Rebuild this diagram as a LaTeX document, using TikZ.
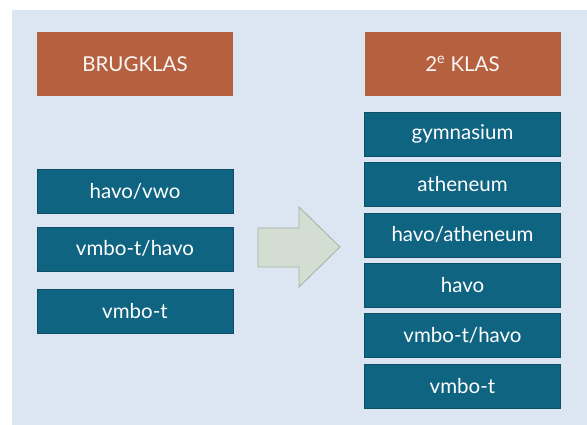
\documentclass[tikz,border=0pt]{standalone}
\usepackage{fontspec}
\setmainfont{Lato}
\usepackage{tikz}
\usetikzlibrary{positioning}
\definecolor{achtergrond}{HTML}{DCE6F2}
\definecolor{koper}{HTML}{B5603F}
\definecolor{petrol}{HTML}{0F6482}
\definecolor{pijlvul}{HTML}{D3DDD2}
\definecolor{pijlrand}{HTML}{9FB3A2}

\begin{document}
\begin{tikzpicture}[
                    x=1pt, y=-1pt,
                    kop/.style={rectangle, fill=koper, text=white!95!koper, minimum width=196pt, minimum height=64pt, inner sep=0pt, font=\fontsize{20.5}{24}\selectfont},
                    richting/.style={rectangle, fill=petrol, draw=petrol!80!black, text=white, minimum width=196pt, minimum height=44pt, inner sep=0pt, font=\fontsize{20.5}{24}\selectfont},
                    node distance=6pt,
                    align=center,
                ]
                \useasboundingbox (0,0) rectangle (587,425);
                \fill[achtergrond] (12,10) rectangle (587,425);

                \node[kop] (brugklas) at (135,64) {BRUGKLAS};
                \node[kop] (tweedeklas) at (462.5,64) {2\textsuperscript{e} KLAS};

                \node[richting] (havovwo) at (135,191.5) {havo/vwo};
                \node[richting] (vmbothavo) [below=13pt of havovwo] {vmbo-t/havo};
                \node[richting] (vmbot) [below=18pt of vmbothavo] {vmbo-t};

                \node[richting] (gymnasium) at (462.5,134) {gymnasium};
                \node[richting] (atheneum) [below=of gymnasium] {atheneum};
                \node[richting] (havoatheneum) [below=of atheneum] {havo/atheneum};
                \node[richting] (havo) [below=of havoatheneum] {havo};
                \node[richting] (vmbothavotwee) [below=of havo] {vmbo-t/havo};
                \node[richting] (vmbottwee) [below=of vmbothavotwee] {vmbo-t};

                \draw[fill=pijlvul, draw=pijlrand, thick] (258,228) -- (299,228) -- (299,207) -- (340,247) -- (299,287) -- (299,267) -- (258,267) -- cycle;
            \end{tikzpicture}
\end{document}
